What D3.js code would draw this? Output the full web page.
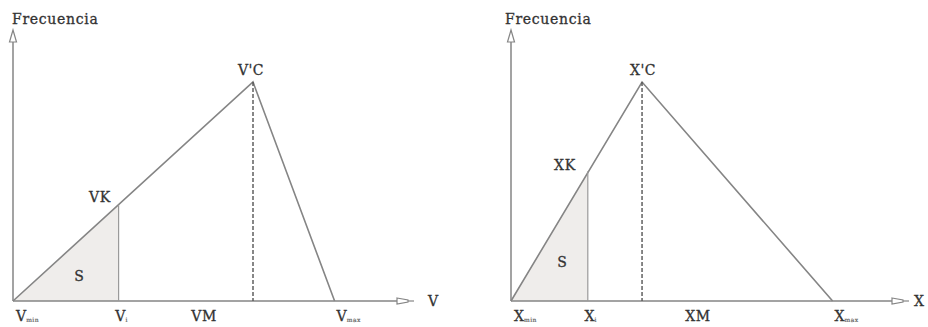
<!DOCTYPE html>
<html>
<head>
<meta charset="utf-8">
<script src="https://cdn.jsdelivr.net/npm/d3@7"></script>
<style>
  html, body { margin: 0; padding: 0; background: #fff; }
  text { font-family: "DejaVu Serif", "Liberation Serif", serif; fill: #333; stroke: #333; stroke-width: 0.3; }
</style>
</head>
<body>
<svg id="chart" width="928" height="327"></svg>
<script>
// Left panel: speed distribution (V)
const vX = [0, 22, 50, 67];
const vFreq = [0, 0.44, 1, 0];

// Right panel: distribution of X
const xX = [0, 16, 27.3, 67];
const xFreq = [0, 0.593, 1, 0];

const yLabel = "Frecuencia";
const axisNames = ["V", "X"];
const peakLabels = ["V'C", "X'C"];
const kLabels = ["VK", "XK"];
const middleLabels = ["VM", "XM"];

const svg = d3.select("#chart");
const lineColor = "#858585";
const darkLine = "#555";

function panel(cfg) {
  const g = svg.append("g");
  const x = d3.scaleLinear().domain([0, 80]).range([cfg.x0, cfg.x0 + 384]);
  const y = d3.scaleLinear().domain([0, 1]).range([301, 82]);
  const X = cfg.xs, F = cfg.fs;

  // shaded area S under the rising edge up to the K point
  g.append("path")
    .attr("d", d3.area().x(d => x(d[0])).y0(y(0)).y1(d => y(d[1]))([[X[0], F[0]], [X[1], F[1]]]))
    .attr("fill", "#efedeb");

  // vertical axis with open arrowhead
  g.append("line").attr("x1", x(0)).attr("x2", x(0)).attr("y1", y(0)).attr("y2", 42)
    .attr("stroke", lineColor).attr("stroke-width", 1.5);
  g.append("path")
    .attr("d", `M${x(0)},30 L${x(0) - 3.5},42 L${x(0) + 3.5},42 Z`)
    .attr("fill", "#fff").attr("stroke", lineColor).attr("stroke-width", 1.2);

  // horizontal axis with open arrowhead
  const xe = cfg.arrowX;
  g.append("line").attr("x1", x(0)).attr("x2", xe).attr("y1", y(0)).attr("y2", y(0))
    .attr("stroke", lineColor).attr("stroke-width", 1.5);
  g.append("path")
    .attr("d", `M${xe},${y(0) - 3} L${xe + 11},${y(0) - 1} L${xe + 11},${y(0) + 1} L${xe},${y(0) + 3} Z`)
    .attr("fill", "#fff").attr("stroke", lineColor).attr("stroke-width", 1.2);
  g.append("line").attr("x1", xe + 11).attr("x2", xe + 17).attr("y1", y(0)).attr("y2", y(0))
    .attr("stroke", lineColor).attr("stroke-width", 1.2);

  // triangular distribution: min -> peak -> max
  const pts = X.map((v, i) => [v, F[i]]).filter((d, i) => i !== 1);
  g.append("path")
    .attr("d", d3.line().x(d => x(d[0])).y(d => y(d[1]))(pts))
    .attr("fill", "none").attr("stroke", lineColor).attr("stroke-width", 1.6);

  // vertical at K
  g.append("line").attr("x1", x(X[1])).attr("x2", x(X[1])).attr("y1", y(F[1])).attr("y2", y(0))
    .attr("stroke", "#9a9a9a").attr("stroke-width", 1.2);
  // dashed vertical at the peak
  g.append("line").attr("x1", x(X[2])).attr("x2", x(X[2])).attr("y1", y(F[2])).attr("y2", y(0))
    .attr("stroke", darkLine).attr("stroke-width", 1.4).attr("stroke-dasharray", "4,2");

  // labels
  g.append("text").attr("x", cfg.fx).attr("y", 24).attr("font-size", 14)
    .attr("letter-spacing", 0.7).text(yLabel);
  g.append("text").attr("x", cfg.px).attr("y", 75).attr("text-anchor", "middle")
    .attr("font-size", 14).attr("letter-spacing", 0.5).text(cfg.peakLabel);
  g.append("text").attr("x", cfg.kx).attr("y", cfg.ky).attr("text-anchor", "middle")
    .attr("font-size", 14).attr("letter-spacing", 0.8).text(cfg.kLabel);
  g.append("text").attr("x", cfg.sx).attr("y", cfg.sy).attr("text-anchor", "middle")
    .attr("font-size", 14).text("S");
  g.append("text").attr("x", xe + cfg.nameOffset).attr("y", y(0) + 5)
    .attr("font-size", 14).text(cfg.axisName);

  const sub = (px, s, anchor) => {
    const t = g.append("text").attr("x", px).attr("y", 321).attr("text-anchor", anchor)
      .attr("font-size", 14);
    t.append("tspan").text(cfg.base);
    t.append("tspan").attr("font-size", 6).attr("dy", 1).attr("fill", "#666")
      .attr("stroke", "#666").attr("stroke-width", 0.2).attr("letter-spacing", 0.5).text(s);
  };
  sub(x(X[0]) + 3, "min", "start");
  sub(x(X[1]) + 3, "i", "middle");
  sub(x(X[3]) + 2, "max", "start");
  g.append("text").attr("x", cfg.mx).attr("y", 321).attr("text-anchor", "middle")
    .attr("font-size", 14).attr("letter-spacing", 0.6).text(cfg.mid);
}

panel({ x0: 13, xs: vX, fs: vFreq, arrowX: 397, base: "V", axisName: axisNames[0], nameOffset: 31,
        peakLabel: peakLabels[0], kLabel: kLabels[0], mid: middleLabels[0],
        fx: 12, px: 251, kx: 100, ky: 202, mx: 204, sx: 79, sy: 281 });
panel({ x0: 511, xs: xX, fs: xFreq, arrowX: 892, base: "X", axisName: axisNames[1], nameOffset: 22,
        peakLabel: peakLabels[1], kLabel: kLabels[1], mid: middleLabels[1],
        fx: 505, px: 643, kx: 565, ky: 170, mx: 698, sx: 562, sy: 267 });
</script>
</body>
</html>
